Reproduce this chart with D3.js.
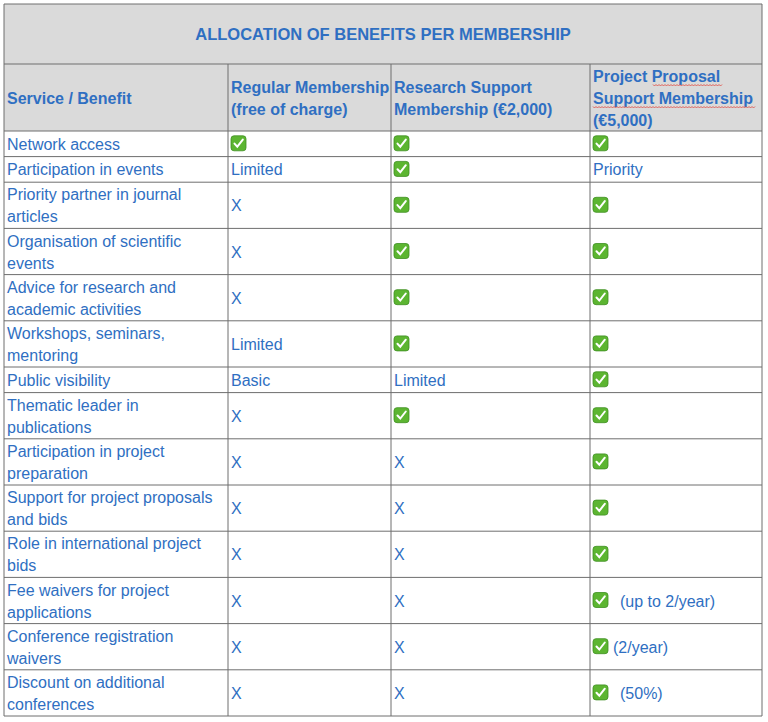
<!DOCTYPE html>
<html><head><meta charset="utf-8">
<script src="https://cdn.jsdelivr.net/npm/d3@7"></script>
<style>body{margin:0;background:#fff}text{font-family:"Liberation Sans",Arial,sans-serif;font-size:16px;fill:#2f6fc2}</style>
</head><body>
<script>
var title = 'ALLOCATION OF BENEFITS PER MEMBERSHIP';
var headers = [['Service / Benefit'], ['Regular Membership', '(free of charge)'],
  ['Research Support', 'Membership (€2,000)'], ['Project Proposal', 'Support Membership', '(€5,000)']];
var services = [['Network access'], ['Participation in events'], ['Priority partner in journal', 'articles'],
  ['Organisation of scientific', 'events'], ['Advice for research and', 'academic activities'],
  ['Workshops, seminars,', 'mentoring'], ['Public visibility'], ['Thematic leader in', 'publications'],
  ['Participation in project', 'preparation'], ['Support for project proposals', 'and bids'],
  ['Role in international project', 'bids'], ['Fee waivers for project', 'applications'],
  ['Conference registration', 'waivers'], ['Discount on additional', 'conferences']];
// 'Y' = check, 'X' = no, other text as written; "Y|note" = check with note
var regular = ['Y', 'Limited', 'X', 'X', 'X', 'Limited', 'Basic', 'X', 'X', 'X', 'X', 'X', 'X', 'X'];
var research = ['Y', 'Y', 'Y', 'Y', 'Y', 'Y', 'Limited', 'Y', 'X', 'X', 'X', 'X', 'X', 'X'];
var project = ['Y', 'Priority', 'Y', 'Y', 'Y', 'Y', 'Y', 'Y', 'Y', 'Y', 'Y', 'Y|(up to 2/year)', 'Y|(2/year)', 'Y|(50%)'];

var colEdges = [4, 228, 391, 590, 762];
var titleH = 60, headH = 67, lineH = 20.6, padH = 5, textLH = 22;

var svg = d3.select('body').append('svg').attr('width', 768).attr('height', 722);

var rowH = services.map(function(s){ return s.length * lineH + padH; });
var tops = [];
var acc = 4 + titleH + headH;
rowH.forEach(function(h){ tops.push(acc); acc += h; });
var bottom = acc;

svg.append('rect').attr('x', 4).attr('y', 4).attr('width', 758).attr('height', titleH + headH)
  .attr('fill', '#dadada');
svg.append('text').attr('x', 383).attr('y', 4 + titleH / 2 + 6).attr('text-anchor', 'middle')
  .attr('font-weight', 'bold').style('font-size', '16.5px').text(title);

headers.forEach(function(h, i){
  var cy = 4 + titleH + headH / 2;
  var t = svg.append('text').attr('x', colEdges[i] + 3).attr('font-weight', 'bold');
  h.forEach(function(l, k){
    t.append('tspan').attr('x', colEdges[i] + 3)
      .attr('y', cy + (k - (h.length - 1) / 2) * textLH + 6).text(l);
  });
});
function squiggle(x0, x1, y){
  var d = 'M' + x0 + ',' + y;
  for (var x = x0; x < x1; x += 3) d += 'l1.5,1.5l1.5,-1.5';
  svg.append('path').attr('d', d).attr('fill', 'none').attr('stroke', '#e0443a').attr('stroke-width', 0.8);
}
var hy = 4 + titleH + headH / 2;
squiggle(653, 722, hy - textLH + 9);
squiggle(593, 755, hy + 9);

function check(x, cy){
  var g = svg.append('g').attr('transform', 'translate(' + x + ',' + (cy - 8) + ')');
  g.append('rect').attr('width', 15).attr('height', 15).attr('rx', 3).attr('fill', '#5cb531')
    .attr('stroke', '#3f8f22').attr('stroke-width', 0.8);
  g.append('path').attr('d', 'M3.5,7.8L6.3,10.8L11.8,3.8').attr('fill', 'none')
    .attr('stroke', '#fff').attr('stroke-width', 2).attr('stroke-linecap', 'round');
}

function cell(val, col, r){
  var x = colEdges[col] + 3, cy = tops[r] + rowH[r] / 2;
  if (Array.isArray(val)) {
    var t = svg.append('text');
    val.forEach(function(l, k){
      t.append('tspan').attr('x', x).attr('y', cy + (k - (val.length - 1) / 2) * textLH + 6).text(l);
    });
    return;
  }
  var parts = val.split('|');
  if (parts[0] === 'Y') {
    check(x, cy);
    if (parts[1]) svg.append('text').attr('x', x + (parts[1] === '(2/year)' ? 20 : 27)).attr('y', cy + 6).text(parts[1]);
  } else {
    svg.append('text').attr('x', x).attr('y', cy + 6).text(val);
  }
}
services.forEach(function(s, r){
  cell(s, 0, r); cell(regular[r], 1, r); cell(research[r], 2, r); cell(project[r], 3, r);
});

var hLines = [4, 4 + titleH, 4 + titleH + headH].concat(tops.slice(1)).concat([bottom]);
svg.selectAll('.h').data(hLines).enter().append('line')
  .attr('x1', 4).attr('x2', 762).attr('y1', function(d){ return d; }).attr('y2', function(d){ return d; })
  .attr('stroke', '#6e6e6e').attr('stroke-width', 1);
svg.selectAll('.v').data(colEdges).enter().append('line')
  .attr('x1', function(d){ return d; }).attr('x2', function(d){ return d; })
  .attr('y1', function(d, i){ return (i === 0 || i === 4) ? 4 : 4 + titleH; }).attr('y2', bottom)
  .attr('stroke', '#6e6e6e').attr('stroke-width', 1);
</script>
</body></html>
